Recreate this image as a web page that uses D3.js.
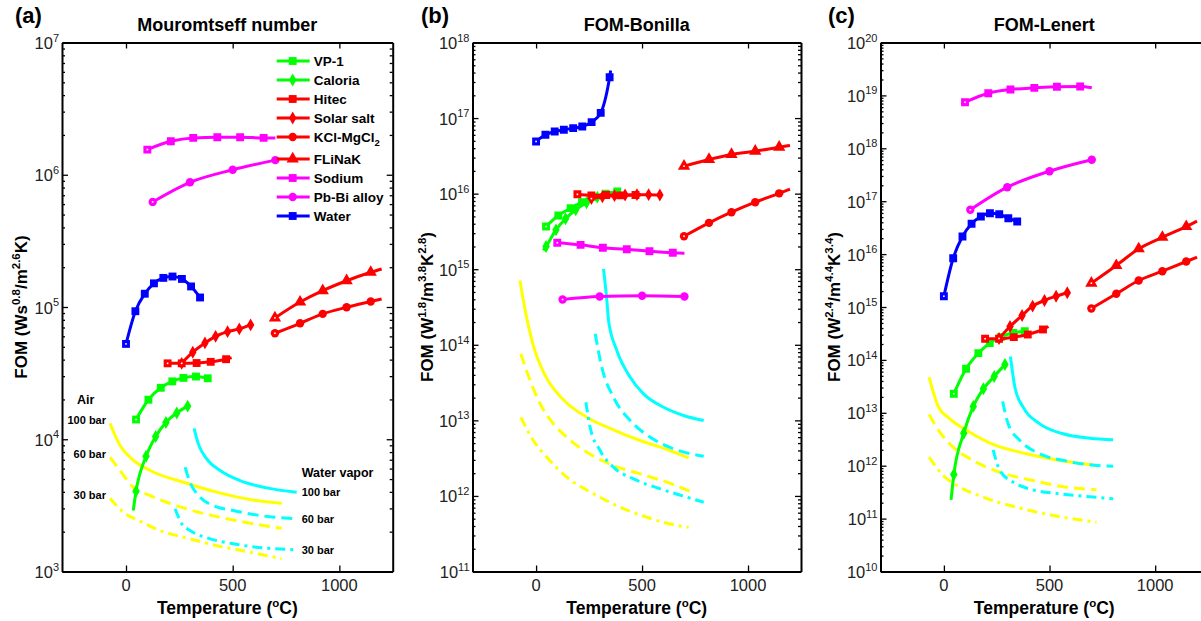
<!DOCTYPE html>
<html>
<head>
<meta charset="utf-8">
<script src="https://cdn.jsdelivr.net/npm/d3@7"></script>
<style>
  body { margin: 0; background: #fff; }
  svg { font-family: Arial, "Liberation Sans", sans-serif; }
</style>
</head>
<body>
<svg id="chart" width="1201" height="621"></svg>
<script>
// temperatures (degC) at which each fluid is evaluated
var waterT   = [0, 44, 88, 131, 175, 218, 262, 305, 347, 352];
var sodiumT  = [100, 210, 315, 428, 535, 645, 700];
var pbbiT    = [125, 300, 500, 700];
var vp1T     = [47, 105, 163, 217, 269, 328, 383];
var caloriaT = [34, 47, 94, 139, 187, 238, 289];
var hitecT   = [195, 261, 331, 397, 469, 495];
var solarT   = [261, 313, 370, 420, 476, 531, 584];
var kclT     = [698, 816, 922, 1034, 1147, 1198];
var flinakT  = [698, 816, 922, 1034, 1147, 1198];

// (a) Mouromtseff number
var vp1A     = [1.41e4, 1.99e4, 2.45e4, 2.74e4, 2.91e4, 2.98e4, 2.89e4];
var caloriaA = [2.89e3, 4.04e3, 7.43e3, 1.05e4, 1.34e4, 1.58e4, 1.78e4];
var hitecA   = [3.75e4, 3.75e4, 3.77e4, 3.85e4, 4.03e4, 4.14e4];
var solarA   = [3.75e4, 4.55e4, 5.35e4, 6.0e4, 6.51e4, 6.83e4, 7.32e4];
var kclA     = [6.33e4, 7.53e4, 8.87e4, 9.95e4, 1.10e5, 1.15e5];
var flinakA  = [8.27e4, 1.09e5, 1.33e5, 1.58e5, 1.83e5, 1.94e5];
var sodiumA  = [1.55e6, 1.79e6, 1.90e6, 1.92e6, 1.92e6, 1.90e6, 1.90e6];
var pbbiA    = [6.23e5, 8.77e5, 1.09e6, 1.29e6];
var waterA   = [5.26e4, 9.29e4, 1.26e5, 1.51e5, 1.66e5, 1.70e5, 1.63e5, 1.43e5, 1.18e5, 1.15e5];

// (b) FOM-Bonilla
var vp1B     = [3.67e15, 5.14e15, 6.42e15, 7.71e15, 8.98e15, 9.95e15, 1.07e16];
var caloriaB = [1.77e15, 2.0e15, 3.32e15, 4.65e15, 6.11e15, 7.57e15, 8.98e15];
var hitecB   = [9.8e15, 9.5e15, 9.6e15, 9.5e15, 9.6e15, 9.7e15];
var solarB   = [8.6e15, 9.1e15, 9.4e15, 9.6e15, 9.7e15, 9.7e15, 9.6e15];
var kclB     = [2.73e15, 4.11e15, 5.68e15, 7.70e15, 1.01e16, 1.15e16];
var flinakB  = [2.31e16, 2.83e16, 3.30e16, 3.65e16, 4.12e16, 4.34e16];
var sodiumB  = [2.24e15, 2.10e15, 1.92e15, 1.84e15, 1.73e15, 1.65e15, 1.63e15];
var pbbiB    = [3.97e14, 4.35e14, 4.45e14, 4.35e14];
var waterB   = [4.90e16, 6.01e16, 6.64e16, 7.0e16, 7.35e16, 7.73e16, 8.84e16, 1.17e17, 3.47e17, 4.25e17];

// (c) FOM-Lenert
var vp1C     = [2.29e13, 6.79e13, 1.34e14, 2.07e14, 2.69e14, 3.25e14, 3.49e14];
var caloriaC = [2.26e11, 6.82e11, 4.11e12, 1.32e13, 2.84e13, 4.86e13, 8.18e13];
var hitecC   = [2.51e14, 2.51e14, 2.69e14, 3.02e14, 3.76e14, 4.28e14];
var solarC   = [2.54e14, 4.28e14, 6.90e14, 1.04e15, 1.33e15, 1.60e15, 1.86e15];
var kclC     = [9.37e14, 1.78e15, 3.17e15, 4.75e15, 7.25e15, 8.73e15];
var flinakC  = [2.82e15, 6.08e15, 1.26e16, 2.08e16, 3.32e16, 4.19e16];
var sodiumC  = [7.43e18, 1.10e19, 1.29e19, 1.39e19, 1.46e19, 1.47e19, 1.39e19];
var pbbiC    = [6.88e16, 1.84e17, 3.69e17, 6.07e17];
var waterC   = [1.60e15, 8.36e15, 2.15e16, 3.74e16, 5.14e16, 5.93e16, 5.68e16, 4.77e16, 4.13e16, 4.05e16];

// gas curves, [T, value] pairs
var air100A = [[-75,1.32e4],[-28,8.96e3],[27,7.11e3],[113,5.80e3],[269,4.73e3],[425,3.98e3],[581,3.50e3],[730,3.28e3]];
var air60A  = [[-75,7.31e3],[-28,5.80e3],[34,4.33e3],[113,3.75e3],[269,3.03e3],[425,2.60e3],[581,2.32e3],[730,2.12e3]];
var air30A  = [[-75,3.58e3],[-13,2.81e3],[66,2.40e3],[159,2.04e3],[269,1.82e3],[425,1.57e3],[581,1.40e3],[730,1.25e3]];
var vap100A = [[319,1.21e4],[339,9.23e3],[378,7.11e3],[441,5.80e3],[534,4.87e3],[659,4.29e3],[800,3.97e3]];
var vap60A  = [[277,6.14e3],[300,4.73e3],[347,3.65e3],[409,3.15e3],[503,2.89e3],[628,2.65e3],[800,2.50e3]];
var vap30A  = [[230,2.98e3],[261,2.30e3],[300,2.04e3],[378,1.80e3],[503,1.62e3],[659,1.50e3],[800,1.46e3]];

var air100B = [[-76,7.10e14],[-60,3.85e14],[-13,9.77e13],[35,4.34e13],[129,1.87e13],[239,1.10e13],[365,7.50e12],[491,5.41e12],[618,4.11e12],[720,3.19e12]];
var air60B  = [[-72,7.60e13],[-28,3.37e13],[19,1.66e13],[82,8.99e12],[145,5.98e12],[240,3.78e12],[365,2.53e12],[491,1.96e12],[617,1.52e12],[724,1.16e12]];
var air30B  = [[-72,1.10e13],[-13,5.41e12],[51,3.25e12],[145,1.77e12],[271,1.07e12],[397,7.08e11],[523,5.22e11],[617,4.35e11],[720,3.85e11]];
var vap100B = [[318,1.01e15],[334,3.85e14],[342,2.09e14],[381,8.39e13],[444,3.72e13],[507,2.24e13],[602,1.49e13],[696,1.16e13],[791,9.95e12]];
var vap60B  = [[279,1.40e14],[310,5.05e13],[365,2.02e13],[444,9.95e12],[539,5.98e12],[649,4.20e12],[791,3.36e12]];
var vap30B  = [[235,1.74e13],[255,8.11e12],[302,3.99e12],[365,2.40e12],[460,1.68e12],[586,1.24e12],[712,9.62e11],[791,8.24e11]];

var air100C = [[-70,4.71e13],[-27,1.32e13],[28,7.71e12],[123,4.30e12],[233,2.52e12],[391,1.68e12],[549,1.25e12],[722,1.01e12]];
var air60C  = [[-70,9.29e12],[-19,4.30e12],[44,2.24e12],[139,1.25e12],[265,7.53e11],[422,5.25e11],[580,3.93e11],[722,3.50e11]];
var air30C  = [[-70,1.45e12],[-3,6.53e11],[76,3.93e11],[186,2.54e11],[344,1.64e11],[501,1.18e11],[722,8.55e10]];
var vap100C = [[315,1.16e14],[336,3.05e13],[375,1.28e13],[454,6.19e12],[564,4.01e12],[691,3.31e12],[801,3.09e12]];
var vap60C  = [[278,1.64e13],[304,6.19e12],[360,2.99e12],[454,1.68e12],[580,1.22e12],[691,1.04e12],[801,9.79e11]];
var vap30C  = [[233,2.00e12],[265,8.11e11],[328,4.88e11],[422,3.50e11],[549,2.94e11],[675,2.62e11],[801,2.37e11]];

var xDomain = [-300, 1250];
var xTicks = [0, 500, 1000];
var pressureLabels = ['100 bar', '60 bar', '30 bar'];

var fluids = [
  {name: 'VP-1',        color: '#00ff00', sym: d3.symbolSquare,   size: 62, T: vp1T,     vals: [vp1A, vp1B, vp1C],             bare: []},
  {name: 'Caloria',     color: '#00ff00', sym: d3.symbolDiamond,  size: 48, T: caloriaT, vals: [caloriaA, caloriaB, caloriaC], bare: [0]},
  {name: 'Hitec',       color: '#ff0000', sym: d3.symbolSquare,   size: 62, T: hitecT,   vals: [hitecA, hitecB, hitecC],       bare: [5]},
  {name: 'Solar salt',  color: '#ff0000', sym: d3.symbolDiamond,  size: 48, T: solarT,   vals: [solarA, solarB, solarC],       bare: []},
  {name: 'KCl-MgCl',    color: '#ff0000', sym: d3.symbolCircle,   size: 55, T: kclT,     vals: [kclA, kclB, kclC],             bare: [5], sub: '2'},
  {name: 'FLiNaK',      color: '#ff0000', sym: d3.symbolTriangle, size: 66, T: flinakT,  vals: [flinakA, flinakB, flinakC],    bare: [5]},
  {name: 'Sodium',      color: '#ff00ff', sym: d3.symbolSquare,   size: 62, T: sodiumT,  vals: [sodiumA, sodiumB, sodiumC],    bare: [6]},
  {name: 'Pb-Bi alloy', color: '#ff00ff', sym: d3.symbolCircle,   size: 55, T: pbbiT,    vals: [pbbiA, pbbiB, pbbiC],          bare: []},
  {name: 'Water',       color: '#0000ff', sym: d3.symbolSquare,   size: 62, T: waterT,   vals: [waterA, waterB, waterC],       bare: [9]}
];

var gases = [
  {kind: 'air', color: '#ffff00', dash: null,          pts: [air100A, air100B, air100C]},
  {kind: 'air', color: '#ffff00', dash: '11,6',        pts: [air60A, air60B, air60C]},
  {kind: 'air', color: '#ffff00', dash: '10,5,3,5',    pts: [air30A, air30B, air30C]},
  {kind: 'vap', color: '#00ffff', dash: null,          pts: [vap100A, vap100B, vap100C]},
  {kind: 'vap', color: '#00ffff', dash: '11,6',        pts: [vap60A, vap60B, vap60C]},
  {kind: 'vap', color: '#00ffff', dash: '10,5,3,5',    pts: [vap30A, vap30B, vap30C]}
];

var plotTop = 42.5, plotBottom = 571.5;

var panels = [
  {letter: '(a)', letterX: 15, left: 62, right: 392.7, title: 'Mouromtseff number', yDomain: [1e3, 1e7], labelX: 27,
   unit: [['FOM (Ws', 0], ['0.8', 1], ['/m', 0], ['2.6', 1], ['K)', 0]]},
  {letter: '(b)', letterX: 421, left: 472.5, right: 801, title: 'FOM-Bonilla', yDomain: [1e11, 1e18], labelX: 433,
   unit: [['FOM (W', 0], ['1.8', 1], ['/m', 0], ['3.8', 1], ['K', 0], ['2.8', 1], [')', 0]]},
  {letter: '(c)', letterX: 828, left: 880.5, right: 1208, title: 'FOM-Lenert', yDomain: [1e10, 1e20], labelX: 840,
   unit: [['FOM (W', 0], ['2.4', 1], ['/m', 0], ['4.4', 1], ['K', 0], ['3.4', 1], [')', 0]]}
];

var svg = d3.select('#chart');

// write a run of [text, isSup] parts into a text element using tspans
function richText(sel, parts, supSize, shift) {
  var up = false;
  parts.forEach(function (p) {
    var t = sel.append('tspan').text(p[0]);
    if (p[1] && !up) { t.attr('dy', -shift).style('font-size', supSize + 'px'); up = true; }
    else if (p[1]) { t.style('font-size', supSize + 'px'); }
    else if (up) { t.attr('dy', shift); up = false; }
  });
}

panels.forEach(function (p, pi) {
  var x = d3.scaleLinear().domain(xDomain).range([p.left, p.right]);
  var y = d3.scaleLog().domain(p.yDomain).range([plotBottom, plotTop]);
  var g = svg.append('g');

  svg.append('clipPath').attr('id', 'clip' + pi)
    .append('rect').attr('x', p.left).attr('y', plotTop)
    .attr('width', p.right - p.left).attr('height', plotBottom - plotTop);

  var line = d3.line()
    .x(function (d) { return x(d[0]); })
    .y(function (d) { return y(d[1]); })
    .curve(d3.curveMonotoneX);

  var plot = g.append('g').attr('clip-path', 'url(#clip' + pi + ')');

  // air / water vapor curves
  gases.forEach(function (gas) {
    plot.append('path').datum(gas.pts[pi])
      .attr('d', line)
      .attr('fill', 'none')
      .attr('stroke', gas.color)
      .attr('stroke-width', 3)
      .attr('stroke-dasharray', gas.dash);
  });

  // fluids
  fluids.forEach(function (f) {
    var pts = f.T.map(function (t, i) { return [t, f.vals[pi][i], i]; });
    plot.append('path').datum(pts)
      .attr('d', line)
      .attr('fill', 'none')
      .attr('stroke', f.color)
      .attr('stroke-width', 3);
    var marked = pts.filter(function (d) { return f.bare.indexOf(d[2]) < 0; });
    plot.selectAll(null).data(marked).enter().append('path')
      .attr('transform', function (d) { return 'translate(' + x(d[0]) + ',' + y(d[1]) + ')'; })
      .attr('d', d3.symbol().type(f.sym).size(f.size))
      .attr('fill', f.color);
    // first marker shows a small white centre
    if (f.bare.indexOf(0) < 0) {
      plot.append('rect')
        .attr('x', x(pts[0][0]) - 0.8).attr('y', y(pts[0][1]) - 0.8)
        .attr('width', 1.6).attr('height', 1.6).attr('fill', '#fff');
    }
  });

  // axes: ticks point inward, box all round
  var lo = Math.round(Math.log10(p.yDomain[0])), hi = Math.round(Math.log10(p.yDomain[1]));
  var majors = d3.range(lo, hi + 1).map(function (e) { return Math.pow(10, e); });
  var minors = [];
  d3.range(lo, hi).forEach(function (e) {
    for (var k = 2; k <= 9; k++) minors.push(k * Math.pow(10, e));
  });

  function styleAxis(a, domainOn) {
    a.selectAll('.tick line').attr('stroke', '#000').attr('stroke-width', 1.3);
    a.select('.domain').attr('stroke', domainOn ? '#000' : 'none').attr('stroke-width', 2);
  }

  g.append('g').attr('transform', 'translate(' + p.left + ',0)')
    .call(d3.axisLeft(y).tickValues(minors).tickSize(-3).tickSizeOuter(0).tickFormat(''))
    .call(styleAxis, false);
  g.append('g').attr('transform', 'translate(' + p.right + ',0)')
    .call(d3.axisRight(y).tickValues(minors).tickSize(-3).tickSizeOuter(0).tickFormat(''))
    .call(styleAxis, false);
  g.append('g').attr('transform', 'translate(' + p.left + ',0)')
    .call(d3.axisLeft(y).tickValues(majors).tickSize(-6).tickSizeOuter(0).tickFormat(''))
    .call(styleAxis, true);
  g.append('g').attr('transform', 'translate(' + p.right + ',0)')
    .call(d3.axisRight(y).tickValues(majors).tickSize(-6).tickSizeOuter(0).tickFormat(''))
    .call(styleAxis, true);
  g.append('g').attr('transform', 'translate(0,' + plotBottom + ')')
    .call(d3.axisBottom(x).tickValues(xTicks).tickSize(-6).tickSizeOuter(0).tickFormat(''))
    .call(styleAxis, true);
  g.append('g').attr('transform', 'translate(0,' + plotTop + ')')
    .call(d3.axisTop(x).tickValues(xTicks).tickSize(-6).tickSizeOuter(0).tickFormat(''))
    .call(styleAxis, true);

  // tick labels
  xTicks.forEach(function (t) {
    g.append('text').attr('x', x(t)).attr('y', plotBottom + 19)
      .attr('text-anchor', 'middle').style('font-size', '16.5px').style('fill', '#222').text(t);
  });
  d3.range(lo, hi + 1).forEach(function (e) {
    var tx = g.append('text').attr('x', p.left - 3).attr('y', y(Math.pow(10, e)) + 6.5)
      .attr('text-anchor', 'end').style('font-size', '16.5px').style('fill', '#222');
    richText(tx, [['10', 0], [String(e), 1]], 11, 7.5);
  });

  // titles and labels
  g.append('text').attr('x', p.letterX).attr('y', 23)
    .style('font-size', '22px').style('font-weight', 'bold').text(p.letter);
  g.append('text').attr('x', (p.left + p.right) / 2).attr('y', 31)
    .attr('text-anchor', 'middle').style('font-size', '18px').style('font-weight', 'bold').text(p.title);
  var xl = g.append('text').attr('x', (p.left + p.right) / 2).attr('y', 614)
    .attr('text-anchor', 'middle').style('font-size', '17.5px').style('font-weight', 'bold');
  richText(xl, [['Temperature (', 0], ['o', 1], ['C)', 0]], 11.5, 7);
  var yl = g.append('text')
    .attr('transform', 'translate(' + p.labelX + ',' + (plotTop + plotBottom) / 2 + ') rotate(-90)')
    .attr('text-anchor', 'middle').style('font-size', '17px').style('font-weight', 'bold');
  richText(yl, p.unit, 11.5, 7);

  if (pi === 0) {
    // pressure labels next to air and water vapor curves
    gases.forEach(function (gas, gi) {
      var pts = gas.pts[0];
      var lbl = pressureLabels[gi % 3];
      var tl = g.append('text').style('font-size', '11px').style('font-weight', 'bold').text(lbl);
      if (gas.kind === 'air') {
        tl.attr('x', x(pts[0][0]) - 4).attr('y', y(pts[0][1]) + 1).attr('text-anchor', 'end');
        if (gi === 0) {
          g.append('text').attr('x', x(pts[0][0]) - 33).attr('y', y(pts[0][1]) - 19)
            .style('font-size', '12.5px').style('font-weight', 'bold').text('Air');
        }
      } else {
        var last = pts[pts.length - 1];
        tl.attr('x', x(last[0]) + 5).attr('y', y(last[1]) + 4);
        if (gi === 3) {
          g.append('text').attr('x', x(last[0]) + 5).attr('y', y(last[1]) - 15)
            .style('font-size', '12.5px').style('font-weight', 'bold').text('Water vapor');
        }
      }
    });

    // legend
    var lx = p.right - 116, rowY = 61;
    fluids.forEach(function (f) {
      var row = g.append('g').attr('transform', 'translate(0,' + rowY + ')');
      row.append('line').attr('x1', lx).attr('x2', lx + 33).attr('y1', 0).attr('y2', 0)
        .attr('stroke', f.color).attr('stroke-width', 3);
      row.append('path').attr('transform', 'translate(' + (lx + 16) + ',0)')
        .attr('d', d3.symbol().type(f.sym).size(f.size)).attr('fill', f.color);
      var t = row.append('text').attr('x', lx + 37).attr('y', 4.8)
        .style('font-size', '13.5px').style('font-weight', 'bold').text(f.name);
      if (f.sub) t.append('tspan').attr('dy', 4).style('font-size', '9.5px').text(f.sub);
      rowY += f.sub ? 22 : 19;
    });
  }
});
</script>
</body>
</html>
